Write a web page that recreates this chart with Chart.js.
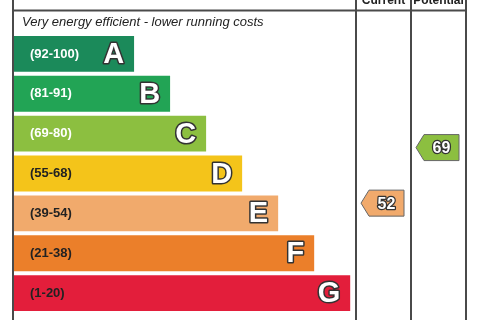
<!DOCTYPE html>
<html>
<head>
<meta charset="utf-8">
<script src="https://cdn.jsdelivr.net/npm/chart.js@4/dist/chart.umd.min.js"></script>
<style>
 html,body{margin:0;padding:0;background:#fff;}
 canvas{display:block;}
</style>
</head>
<body>
<canvas id="epc" width="480" height="320"></canvas>
<script>
// ===== DATOS =====
const bands=["A","B","C","D","E","F","G"];
const ranges=["(92-100)","(81-91)","(69-80)","(55-68)","(39-54)","(21-38)","(1-20)"];
const bandLow=[92,81,69,55,39,21,1];
const bandHigh=[100,91,80,68,54,38,20];
const barLengths=[10,13,16,19,22,25,28];
const bandColors=["#1b8a5a","#22a455","#8cbf40","#f4c41a","#f1aa6c","#eb7f2a","#e31e3b"];
const rangeTextColors=["#fff","#fff","#fff","#222","#222","#222","#222"];
const currentRating=52;
const potentialRating=69;
const titleTop="Very energy efficient - lower running costs";
const colHeaders=["Current","Potential"];

const FONT="'Liberation Sans', Arial, sans-serif";

function bandOf(r){
 for(let i=0;i<bands.length;i++) if(r>=bandLow[i]&&r<=bandHigh[i]) return i;
 return bands.length-1;
}

// ===== TABLA + TEXTOS =====
const epcPlugin={
 id:"epc",
 beforeDatasetsDraw(chart){
  const c=chart.ctx,a=chart.chartArea;
  c.save();
  c.strokeStyle="#4a4a4a";
  c.lineWidth=2;
  const xCur=a.right+1,xPot=xCur+55,xEnd=xPot+55;
  c.beginPath();
  c.moveTo(13,0);c.lineTo(13,320);
  c.moveTo(12,10.5);c.lineTo(xEnd+1,10.5);
  c.moveTo(xCur,0);c.lineTo(xCur,320);
  c.moveTo(xPot,0);c.lineTo(xPot,320);
  c.moveTo(xEnd,0);c.lineTo(xEnd,320);
  c.stroke();
  c.fillStyle="#222";
  c.font="bold 12px "+FONT;
  c.textAlign="center";
  c.textBaseline="alphabetic";
  c.fillText(colHeaders[0],(xCur+xPot)/2,4);
  c.fillText(colHeaders[1],(xPot+xEnd)/2,4);
  c.font="italic 13px "+FONT;
  c.textAlign="left";
  c.fillText(titleTop,22,26);
  c.restore();
 },
 afterDatasetsDraw(chart){
  const c=chart.ctx,a=chart.chartArea;
  const meta=chart.getDatasetMeta(0);
  const ys=chart.scales.y;
  c.save();
  meta.data.forEach((bar,i)=>{
   c.textBaseline="middle";
   c.textAlign="left";
   c.font="bold 13px "+FONT;
   c.fillStyle=rangeTextColors[i];
   c.fillText(ranges[i],30,bar.y);
   c.font="bold 29px "+FONT;
   c.textAlign="right";
   c.lineJoin="round";
   c.lineWidth=3;
   c.strokeStyle="#333";
   c.strokeText(bands[i],bar.x-10,bar.y+1);
   c.fillStyle="#fff";
   c.fillText(bands[i],bar.x-10,bar.y+1);
  });
  const pitch=ys.getPixelForValue(1)-ys.getPixelForValue(0);
  const xCur=a.right+1,xPot=xCur+55;
  [[currentRating,xCur],[potentialRating,xPot]].forEach(([r,x0])=>{
   const i=bandOf(r);
   const frac=(r-bandLow[i])/(bandHigh[i]-bandLow[i]);
   const y=ys.getPixelForValue(i)+(0.5-frac)*pitch*0.7;
   const tip=x0+5,body=x0+13,right=x0+48,h=13;
   c.beginPath();
   c.moveTo(tip,y);
   c.lineTo(body,y-h);
   c.lineTo(right,y-h);
   c.lineTo(right,y+h);
   c.lineTo(body,y+h);
   c.closePath();
   c.fillStyle=bandColors[i];
   c.fill();
   c.lineWidth=1;
   c.strokeStyle="#666";
   c.stroke();
   c.font="bold 16px "+FONT;
   c.textAlign="center";
   c.textBaseline="middle";
   c.lineWidth=2.5;
   c.strokeStyle="#333";
   c.strokeText(String(r),(body+right)/2,y+1);
   c.fillStyle="#fff";
   c.fillText(String(r),(body+right)/2,y+1);
  });
  c.restore();
 }
};

// ===== GRAFICO =====
new Chart(document.getElementById("epc"),{
 type:"bar",
 data:{
  labels:bands,
  datasets:[{
   data:barLengths,
   backgroundColor:bandColors,
   borderWidth:0,
   barPercentage:0.9,
   categoryPercentage:1
  }]
 },
 options:{
  indexAxis:"y",
  responsive:false,
  animation:false,
  layout:{padding:{top:34,bottom:7,left:14,right:125}},
  plugins:{legend:{display:false},tooltip:{enabled:false}},
  scales:{
   x:{display:false,min:0,max:28.4},
   y:{display:false}
  }
 },
 plugins:[epcPlugin]
});
</script>
</body>
</html>
